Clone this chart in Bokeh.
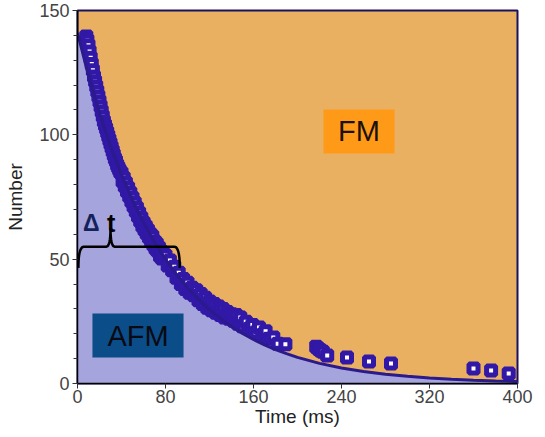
import numpy as np
from bokeh.plotting import figure
from bokeh.models import Range1d, SingleIntervalTicker
from bokeh.core.properties import value
from bokeh.embed import file_html
from bokeh.resources import INLINE

# ---- data ----
# boundary curve between AFM (below) and FM (above)
curve_t = [0, 10, 20, 30, 40, 50, 60, 70, 80, 90, 100, 110, 120, 130, 140, 150,
           160, 170, 180, 190, 200, 220, 240, 260, 280, 300, 320, 340, 360, 380, 400]
curve_n = [141, 123.8, 108.8, 95.5, 83.9, 73.7, 64.7, 56.8, 49.9, 43.8, 38.5, 33.8,
           29.7, 26.1, 22.9, 20.1, 17.7, 15.5, 13.6, 12.0, 10.5, 8.1, 6.2, 4.8, 3.7,
           2.9, 2.2, 1.7, 1.3, 1.0, 0.8]

# measured points (open squares)
data_t = [8, 9, 10, 11, 12, 13, 14, 15, 16, 17, 18, 19, 20, 21, 22, 23, 24, 25, 26,
          27, 28, 29,
          30, 31, 32, 33, 34, 35, 36, 37, 38, 39, 40, 41, 42, 43, 44, 45, 46, 47,
          48, 49, 50, 51, 52, 53, 54, 55, 56, 57, 58, 59, 60, 61, 62, 63, 64, 65,
          66, 67, 68, 69, 70, 71, 72, 73, 74, 75, 76, 77, 78,
          80, 82, 84, 86, 88, 90, 92, 94, 96, 98, 100, 102, 104, 106, 108, 110,
          112, 114, 116, 118, 120, 122, 124, 126, 128, 130, 132, 134, 136, 138,
          140, 142, 144, 146, 148, 150,
          153, 156, 159, 162, 165, 168, 171, 174, 178, 182, 189,
          217, 219, 221, 223, 227, 245, 265, 285, 360, 376, 392]
data_n = [139.5, 138, 136, 133.5, 131, 128.5, 126, 123.5, 121.5, 119.5, 117.5, 115.5,
          113.5, 111.5, 109.5, 107.5, 105.5, 104, 102.5, 101, 99.5, 98,
          96.5, 95, 93.5, 92, 90.5, 89.5, 88, 87, 86, 85, 84.7, 81.3, 82.7, 79.3,
          80.7, 77.3, 78.7, 75.3, 76.7, 73.3, 74.7, 71.3, 72.7, 69.3, 70.7, 67.3,
          68.7, 65.3, 66.7, 63.3, 64.7, 61.8, 63.2, 60.3, 61.7, 58.8, 60.2, 57.3,
          59.2, 55.8, 57.2, 54.3, 56.2, 53.3, 54.7, 51.3, 53.2, 50.3, 52.2,
          51.5, 47.5, 49.5, 45.5, 47, 42.5, 44.5, 40, 42, 38, 40.5, 36.5, 38.5,
          35.5, 37.5, 33.5, 36, 32, 34.5, 30.5, 33, 29.5, 32, 28.5, 31, 27.5, 30,
          26.5, 28.8, 26, 27.8, 25.2, 27.5, 24, 26.5, 23,
          24.8, 22, 23.5, 20.5, 22.5, 19.5, 21, 18, 18.5, 16, 15.8,
          14.8, 14, 13.3, 12.8, 11.3, 10.5, 8.8, 8, 6, 5.2, 4]

x_ticks_interval = 80
y_ticks_interval = 50

# annotation boxes (data coordinates)
fm_box = dict(left=223.6, right=288.2, bottom=92.5, top=110.2)
afm_box = dict(left=13.6, right=96.4, bottom=10.5, top=28.1)

# brace geometry (data coordinates)
BRACE_X0, BRACE_X1 = 0.8, 93.0
BRACE_Y, BRACE_END_Y = 55.0, 46.5
BRACE_TIP_X, BRACE_TIP_Y = 30.0, 62.5

# ---- colours ----
FM_COL = "#e9b062"
AFM_COL = "#a6a4dc"
FM_BOX = "#ff9a18"
AFM_BOX = "#0b4d88"
PT_COL = "#3118a6"
CURVE_COL = "#2a1a8c"

p = figure(width=537, height=432, output_backend="svg", toolbar_location=None,
           x_range=Range1d(0, 400), y_range=Range1d(0, 150),
           min_border_left=77, min_border_right=20, min_border_top=10,
           min_border_bottom=49)
p.background_fill_color = FM_COL
p.border_fill_color = "white"
p.xgrid.visible = False
p.ygrid.visible = False
p.outline_line_color = "#1a1060"
p.outline_line_width = 2

# AFM region
p.varea(x=curve_t, y1=[0] * len(curve_t), y2=curve_n, fill_color=AFM_COL)

# points
p.scatter(data_t, data_n, marker="square", size=9, line_width=5,
          line_color=PT_COL, fill_color="white")

# fitted curve
p.line(curve_t, curve_n, line_color=CURVE_COL, line_width=3)


def quad(p0, c, p1, n=12):
    s = np.linspace(0, 1, n)
    x = (1 - s) ** 2 * p0[0] + 2 * (1 - s) * s * c[0] + s ** 2 * p1[0]
    y = (1 - s) ** 2 * p0[1] + 2 * (1 - s) * s * c[1] + s ** 2 * p1[1]
    return list(x), list(y)


bx, by = [], []
for seg in [
    quad((BRACE_X0, BRACE_END_Y), (BRACE_X0, BRACE_Y), (BRACE_X0 + 5, BRACE_Y)),
    quad((BRACE_TIP_X - 4, BRACE_Y), (BRACE_TIP_X, BRACE_Y), (BRACE_TIP_X, BRACE_TIP_Y)),
    quad((BRACE_TIP_X, BRACE_TIP_Y), (BRACE_TIP_X, BRACE_Y), (BRACE_TIP_X + 4, BRACE_Y)),
    quad((BRACE_X1 - 5, BRACE_Y), (BRACE_X1, BRACE_Y), (BRACE_X1, BRACE_END_Y)),
]:
    bx += seg[0]
    by += seg[1]
p.line(bx, by, line_color="black", line_width=2.5)

p.text(x=[12.5], y=[64.5], text=["Δ"], text_font=value("Liberation Sans"),
       text_font_size="23px", text_font_style="bold", text_color="#14225a",
       text_align="center", text_baseline="alphabetic")
p.text(x=[30.5], y=[64.5], text=["t"], text_font=value("Liberation Sans"),
       text_font_size="25px", text_font_style="bold", text_color="black",
       text_align="center", text_baseline="alphabetic")

# label boxes
p.quad(left=[fm_box["left"]], right=[fm_box["right"]], bottom=[fm_box["bottom"]],
       top=[fm_box["top"]], fill_color=FM_BOX, line_color=None)
p.quad(left=[afm_box["left"]], right=[afm_box["right"]], bottom=[afm_box["bottom"]],
       top=[afm_box["top"]], fill_color=AFM_BOX, line_color=None)
p.text(x=[(fm_box["left"] + fm_box["right"]) / 2], y=[(fm_box["bottom"] + fm_box["top"]) / 2],
       text=["FM"], text_font=value("Liberation Sans"), text_font_size="29px",
       text_color="#1a1208", text_align="center", text_baseline="middle")
p.text(x=[(afm_box["left"] + afm_box["right"]) / 2], y=[(afm_box["bottom"] + afm_box["top"]) / 2],
       text=["AFM"], text_font=value("Liberation Sans"), text_font_size="29px",
       text_color="#0a0a14", text_align="center", text_baseline="middle")

# axes
p.xaxis.ticker = SingleIntervalTicker(interval=x_ticks_interval, num_minor_ticks=0)
p.yaxis.ticker = SingleIntervalTicker(interval=y_ticks_interval, num_minor_ticks=5)
for ax in (p.xaxis, p.yaxis):
    ax.axis_line_color = "black"
    ax.axis_line_width = 1.5
    ax.major_tick_line_color = "#333333"
    ax.major_tick_in = 0
    ax.major_tick_out = 5
    ax.minor_tick_in = 0
    ax.minor_tick_out = 4
    ax.minor_tick_line_color = "#333333"
    ax.major_label_text_font = "Liberation Sans"
    ax.major_label_text_font_size = "18px"
    ax.major_label_text_color = "#444444"
    ax.axis_label_text_font = "Liberation Sans"
    ax.axis_label_text_font_size = "19px"
    ax.axis_label_text_font_style = "normal"
    ax.axis_label_text_color = "#222222"
p.xaxis.major_label_standoff = 1
p.xaxis.axis_label_standoff = 0
p.yaxis.major_label_standoff = 3
p.yaxis.axis_label_standoff = 10
p.xaxis.axis_label = "Time (ms)"
p.yaxis.axis_label = "Number"

open("out.html", "w").write(file_html(p, INLINE))
